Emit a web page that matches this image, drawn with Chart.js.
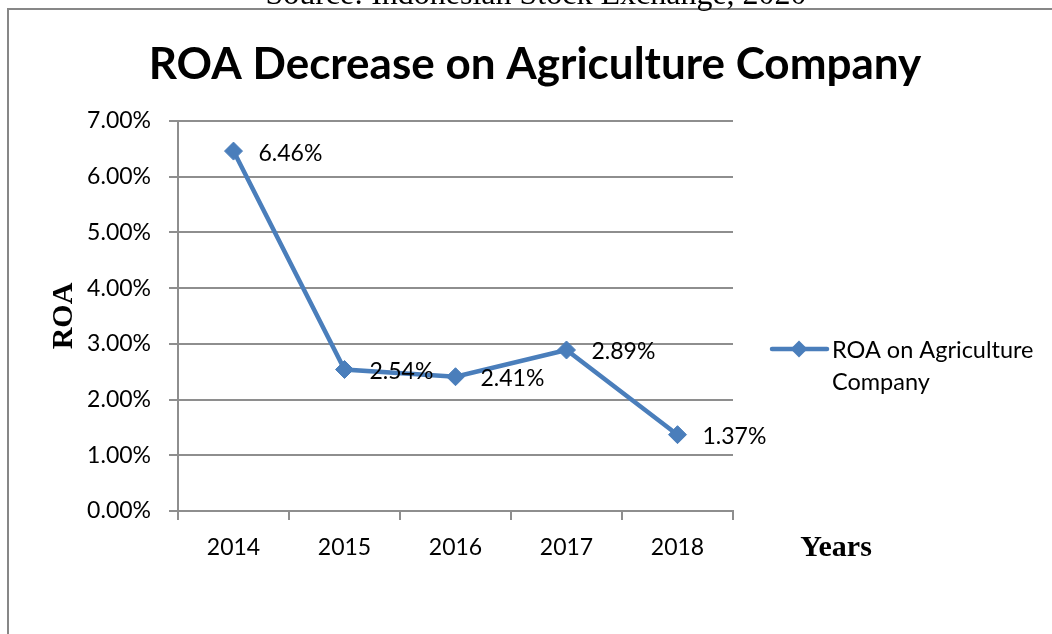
<!DOCTYPE html>
<html>
<head>
<meta charset="utf-8">
<script src="https://cdn.jsdelivr.net/npm/chart.js"></script>
<style>
  html, body { margin: 0; padding: 0; background: #fff; }
  #wrap { width: 1052px; height: 634px; }
</style>
</head>
<body>
<div id="wrap"><canvas id="canvas" width="1052" height="634"></canvas></div>
<script>
// chart data
var years = ["2014", "2015", "2016", "2017", "2018"];
var roaValues = [6.46, 2.54, 2.41, 2.89, 1.37];
var yTicks = [0, 1, 2, 3, 4, 5, 6, 7];
var seriesName = ["ROA on Agriculture", "Company"];
var titleText = "ROA Decrease on Agriculture Company";
var sourceText = "Source: Indonesian Stock Exchange, 2020";

var lineColor = "#4A7EBB";
var gridColor = "#8e8e8e";
var bodyFont = "Lato";
var textSize = 23;

function pct(v) { return v.toFixed(2) + "%"; }

function diamond(ctx, x, y, r) {
    ctx.beginPath();
    ctx.moveTo(x, y - r);
    ctx.lineTo(x + r, y);
    ctx.lineTo(x, y + r);
    ctx.lineTo(x - r, y);
    ctx.closePath();
    ctx.fill();
}

// frame, source line, title, value labels, "Years" and the legend
var extras = {
    id: "extras",
    afterDraw: function(chart) {
        var ctx = chart.ctx;
        var area = chart.chartArea;
        ctx.save();

        ctx.strokeStyle = "#878787";
        ctx.lineWidth = 2;
        ctx.beginPath();
        ctx.moveTo(8, 700);
        ctx.lineTo(8, 9);
        ctx.lineTo(1100, 9);
        ctx.stroke();

        ctx.fillStyle = "#000";
        ctx.font = "32px 'Liberation Serif'";
        ctx.textAlign = "center";
        ctx.textBaseline = "alphabetic";
        ctx.fillText(sourceText, 536, 4);

        ctx.font = "bold 44px " + bodyFont;
        ctx.textBaseline = "middle";
        ctx.fillText(titleText, 535, 65);

        ctx.font = textSize + "px " + bodyFont;
        ctx.textAlign = "left";
        var pts = chart.getDatasetMeta(0).data;
        for (var i = 0; i < pts.length; i++) {
            ctx.fillText(pct(roaValues[i]), pts[i].x + 25, pts[i].y + 2);
        }

        ctx.font = "bold 30px 'Liberation Serif'";
        ctx.textAlign = "center";
        ctx.fillText("Years", area.right + 103, area.bottom + 37);

        // legend
        var lx = area.right + 39, ly = area.top + 228;
        ctx.strokeStyle = lineColor;
        ctx.lineWidth = 4.5;
        ctx.lineCap = "round";
        ctx.beginPath();
        ctx.moveTo(lx, ly);
        ctx.lineTo(lx + 55, ly);
        ctx.stroke();
        ctx.fillStyle = lineColor;
        diamond(ctx, lx + 27, ly, 8.5);
        ctx.fillStyle = "#000";
        ctx.font = "23.5px " + bodyFont;
        ctx.textAlign = "left";
        ctx.fillText(seriesName[0], lx + 60, ly + 1);
        ctx.fillText(seriesName[1], lx + 60, ly + 33);
        ctx.restore();
    }
};

new Chart("canvas", {
    type: "line",
    data: {
        labels: years,
        datasets: [{
            label: seriesName.join(" "),
            data: roaValues,
            borderColor: lineColor,
            backgroundColor: lineColor,
            borderWidth: 4.5,
            tension: 0,
            pointStyle: "rectRot",
            pointRadius: 9,
            pointHoverRadius: 9,
            pointBackgroundColor: lineColor,
            pointBorderColor: lineColor,
            pointBorderWidth: 1
        }]
    },
    options: {
        responsive: false,
        animation: false,
        events: [],
        layout: { padding: { left: 0, right: 319, top: 121, bottom: 63 } },
        plugins: {
            legend: { display: false },
            tooltip: { enabled: false },
            title: { display: false }
        },
        scales: {
            x: {
                offset: true,
                grid: {
                    offset: true,
                    drawOnChartArea: false,
                    drawTicks: true,
                    tickLength: 9,
                    color: gridColor,
                    lineWidth: 2
                },
                border: { color: gridColor, width: 2 },
                ticks: { color: "#000", padding: 14, font: { family: bodyFont, size: textSize } },
                afterFit: function(scale) { scale.height = 60; }
            },
            y: {
                min: yTicks[0],
                max: yTicks[yTicks.length - 1],
                afterBuildTicks: function(scale) {
                    scale.ticks = yTicks.map(function(v) { return { value: v }; });
                },
                grid: { color: gridColor, lineWidth: 2, tickLength: 9 },
                border: { color: gridColor, width: 2 },
                ticks: {
                    color: "#000",
                    padding: 18,
                    font: { family: bodyFont, size: textSize },
                    callback: function(v) { return pct(v); }
                },
                title: {
                    display: true,
                    text: "ROA",
                    color: "#000",
                    font: { family: "Liberation Serif", size: 30, weight: "bold" },
                    padding: { top: 46, bottom: 0 }
                },
                afterFit: function(scale) { scale.width = 178; }
            }
        }
    },
    plugins: [extras]
});
</script>
</body>
</html>
